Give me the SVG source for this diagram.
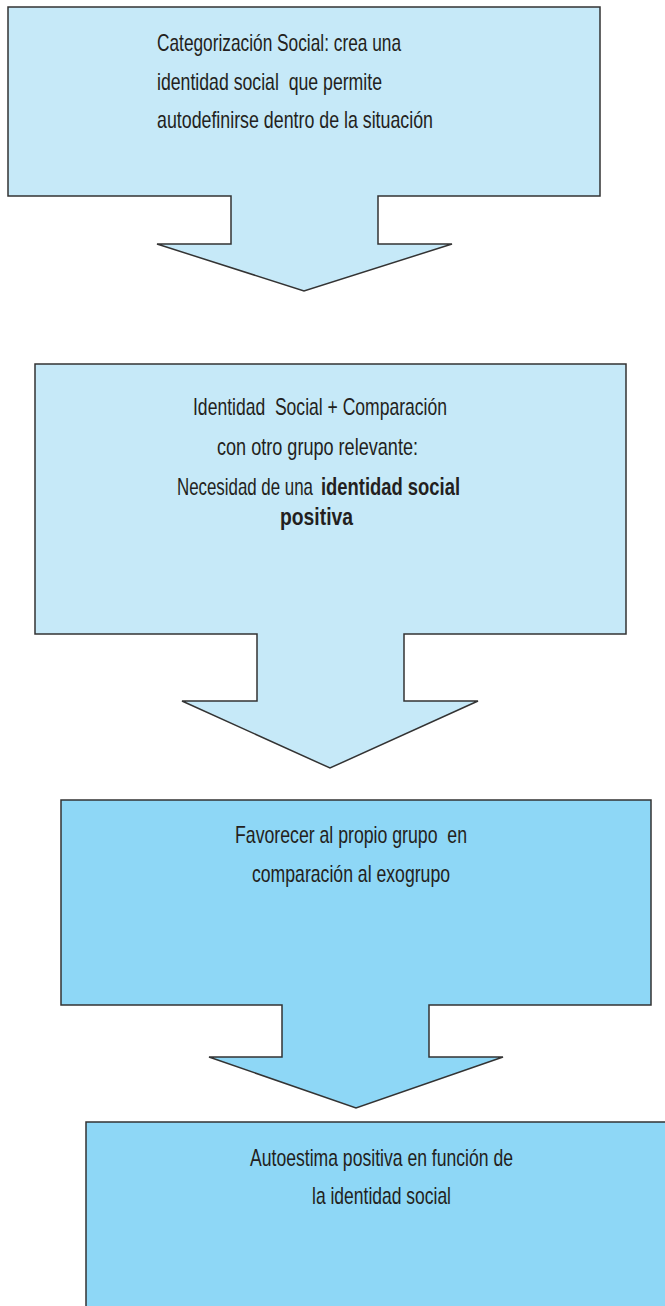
<svg xmlns="http://www.w3.org/2000/svg" width="665" height="1306" viewBox="0 0 665 1306">
  <style>
    .shape { stroke: #333333; stroke-width: 1.5; stroke-linejoin: miter; }
    .light { fill: #C6E9F8; }
    .dark { fill: #8ED7F6; }
    .label { font-family: "Liberation Sans", Arial, sans-serif; font-size: 24px; fill: #231F20; }
    .bold { font-weight: bold; }
  </style>
  <rect width="665" height="1306" fill="#FFFFFF"/>

  <!-- Step 1: box with downward arrow -->
  <g id="node-categorizacion">
    <path class="shape light" d="M8,7 H600 V196 H378 V244 H452 L304,291 L157,244 H231 V196 H8 Z"/>
    <text class="label" x="157" y="51" textLength="244" lengthAdjust="spacingAndGlyphs">Categorización Social: crea una</text>
    <text class="label" x="157" y="89.5" textLength="225" lengthAdjust="spacingAndGlyphs" xml:space="preserve">identidad social  que permite</text>
    <text class="label" x="157" y="128" textLength="276" lengthAdjust="spacingAndGlyphs">autodefinirse dentro de la situación</text>
  </g>

  <!-- Step 2 -->
  <g id="node-comparacion">
    <path class="shape light" d="M35,364 H626 V634 H404 V701 H478 L330,768 L182,701 H257 V634 H35 Z"/>
    <text class="label" x="193" y="415" textLength="254" lengthAdjust="spacingAndGlyphs" xml:space="preserve">Identidad  Social + Comparación</text>
    <text class="label" x="217" y="455" textLength="201" lengthAdjust="spacingAndGlyphs">con otro grupo relevante:</text>
    <!-- regular part squeezed horizontally so the bold part can follow on the same line -->
    <text class="label" transform="translate(177,495) scale(0.703,1)" x="0" y="0">Necesidad de una</text>
    <text class="label bold" x="321" y="495" textLength="139" lengthAdjust="spacingAndGlyphs">identidad social</text>
    <text class="label bold" x="280" y="525" textLength="73" lengthAdjust="spacingAndGlyphs">positiva</text>
  </g>

  <!-- Step 3 -->
  <g id="node-favorecer">
    <path class="shape dark" d="M61,800 H651 V1005 H429 V1057 H503 L356,1108 L209,1057 H282 V1005 H61 Z"/>
    <text class="label" x="235" y="843" textLength="232" lengthAdjust="spacingAndGlyphs" xml:space="preserve">Favorecer al propio grupo  en</text>
    <text class="label" x="252" y="882" textLength="198" lengthAdjust="spacingAndGlyphs">comparación al exogrupo</text>
  </g>

  <!-- Step 4: box runs past the right and bottom edges -->
  <g id="node-autoestima">
    <path class="shape dark" d="M86,1320 V1122 H680 V1320 Z"/>
    <text class="label" x="250" y="1166" textLength="263" lengthAdjust="spacingAndGlyphs">Autoestima positiva en función de</text>
    <text class="label" x="312" y="1204" textLength="139" lengthAdjust="spacingAndGlyphs">la identidad social</text>
  </g>

  <!-- the arrows are part of each block shape; no separate connectors -->
  <g id="connectors"/>
</svg>
